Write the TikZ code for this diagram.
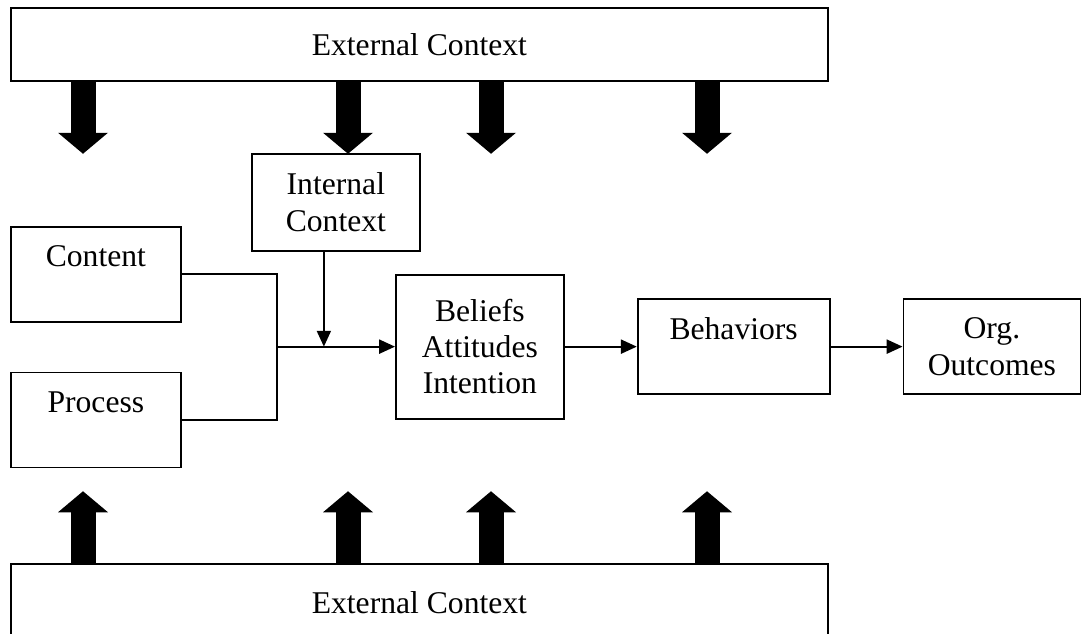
\documentclass[tikz,border=0pt]{standalone}
\usepackage{fontspec}
\setmainfont{Liberation Serif}
\usetikzlibrary{arrows.meta,positioning,calc}
\tikzset{
    box/.style={rectangle,draw,line width=1pt,align=center,font=\fontsize{18}{20.7}\selectfont},
    upper/.style={box,inner sep=0pt,text height=0.8cm,text depth=1.1cm},
    pre/.style={-{Triangle[length=9pt,width=8pt]},line width=1pt},
    post/.style={{Triangle[length=9pt,width=8pt]}-,line width=1pt},
    bi/.style={-,line width=1pt},
    fat/.style={line width=0.5cm,-{Triangle[length=0.42cm,width=1cm,line width=0pt]}}
}

\begin{document}
\begin{tikzpicture}

                \path[use as bounding box,clip] (0,0) rectangle (21.72,-12.68);

                \node[box] (ctxtop) [minimum width=16.34cm, minimum height=1.46cm, anchor=north west] at (0.2,-0.14) {External Context};

                \node[upper] (content) [minimum width=3.4cm, below right=2.88cm and 0cm of ctxtop.south west] {Content};
                \node[upper] (process) [minimum width=3.4cm, below=0.98cm of content]                        {Process};

                \node[box] (internal) [minimum width=3.36cm, minimum height=1.94cm, below right=1.42cm and 4.82cm of ctxtop.south west] {Internal\\Context};
                \node[box] (beliefs)  [minimum width=3.36cm, minimum height=2.88cm, below right=3.84cm and 7.7cm of ctxtop.south west]  {Beliefs\\Attitudes\\Intention};
                \node[upper] (behaviors) [minimum width=3.84cm, right=1.44cm of beliefs] {Behaviors}
                    edge[post] (beliefs);
                \node[box] (org) [minimum width=3.54cm, minimum height=1.9cm, right=1.44cm of behaviors] {Org.\\Outcomes}
                    edge[post] (behaviors);

                \node[box] (ctxbot) [minimum width=16.34cm, minimum height=1.54cm, below right=1.9cm and 0cm of process.south west] {External Context};

                % joining the two inputs
                \coordinate (join) at ($(content.east |- beliefs.west)+(1.9,0)$);
                \draw[bi] (content.east) -| (join) |- (process.east);
                \draw[pre] (join) -- (beliefs.west);
                \coordinate (drop) at ([xshift=-0.24cm]internal.south);
                \draw[pre] (drop) -- (drop |- join);

                % outside pressure
                \foreach \i/\x in {1/1.46,2/6.76,3/9.62,4/13.94} {
                    \coordinate (down \i) at ([xshift=\x cm]ctxtop.south west);
                    \draw[fat] (down \i) -- ++(0,-1.44);
                    \coordinate (up \i) at ([xshift=\x cm]ctxbot.north west);
                    \draw[fat] (up \i) -- ++(0,1.44);
                }

\end{tikzpicture}
\end{document}
